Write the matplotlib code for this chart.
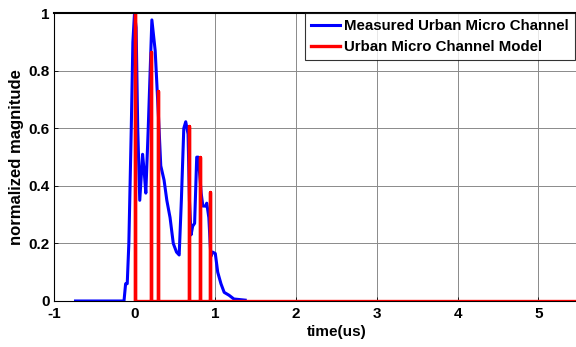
import matplotlib
matplotlib.use("Agg")
import matplotlib.pyplot as plt

plt.rcParams['font.family'] = ['Liberation Sans', 'DejaVu Sans']
plt.rcParams['font.weight'] = 'bold'
plt.rcParams['axes.unicode_minus'] = False

# Measured impulse response (time in us, normalized magnitude)
meas_t = [-0.73, -0.13, -0.11, -0.09, -0.07, -0.04, -0.02, 0.0, 0.02, 0.04, 0.065,
          0.10, 0.12, 0.14, 0.17, 0.215, 0.256, 0.297, 0.325, 0.366, 0.40, 0.44,
          0.48, 0.52, 0.553, 0.58, 0.61, 0.634, 0.663, 0.68, 0.70, 0.72, 0.744,
          0.77, 0.79, 0.825, 0.846, 0.88, 0.894, 0.92, 0.945, 0.967, 1.0, 1.03,
          1.07, 1.11, 1.17, 1.23, 1.37]
meas_y = [0.0, 0.0, 0.06, 0.06, 0.2, 0.6, 0.9, 1.0, 0.95, 0.6, 0.35,
          0.51, 0.45, 0.375, 0.6, 0.977, 0.87, 0.64, 0.47, 0.42, 0.35, 0.29,
          0.20, 0.17, 0.16, 0.35, 0.60, 0.623, 0.58, 0.35, 0.23, 0.26, 0.27,
          0.50, 0.50, 0.375, 0.33, 0.33, 0.34, 0.29, 0.155, 0.17, 0.165, 0.10,
          0.06, 0.03, 0.02, 0.007, 0.003]

# Model impulse delays and amplitudes
model_t = [0.0, 0.20, 0.29, 0.67, 0.81, 0.93]
model_a = [1.0, 0.865, 0.73, 0.61, 0.50, 0.38]
t_end = 6.0

x_ticks = [-1, 0, 1, 2, 3, 4, 5]
y_ticks = [0, 0.2, 0.4, 0.6, 0.8, 1]
y_ticklabels = ['0', '0.2', '0.4', '0.6', '0.8', '1']

# Build the impulse train as a single line
rx, ry = [], []
for t, a in zip(model_t, model_a):
    rx += [t, t, t]
    ry += [0, a, 0]
rx.append(t_end)
ry.append(0)

W, H = 576, 347
fig = plt.figure(figsize=(W / 100, H / 100), dpi=100)
ax_left, ax_right = 53.7, 619.3
ax = fig.add_axes([ax_left / W, 46 / H, (ax_right - ax_left) / W, 287.7 / H])

ax.plot(meas_t, meas_y, color='#0000ff', lw=2.2, label='Measured Urban Micro Channel')
ax.plot(rx, ry, color='#ff0000', lw=2.4, label='Urban Micro Channel Model')

ax.set_xlim(-1, 6)
ax.set_ylim(0, 1)
ax.set_xticks(x_ticks)
ax.set_yticks(y_ticks)
ax.set_yticklabels(y_ticklabels)
ax.tick_params(direction='in', length=3, labelsize=11, width=0.6)
ax.tick_params(axis='x', pad=4)
ax.tick_params(axis='y', pad=3)
ax.grid(True, color='#8a8a8a', lw=0.7)
for s in ax.spines.values():
    s.set_linewidth(0.8)
ax.spines['top'].set_linewidth(1.5)

ax.set_xlabel('time(us)', fontsize=11, fontweight='bold', labelpad=3)
ax.set_ylabel('normalized magnitude', fontsize=12, fontweight='bold', labelpad=3)

leg_x = (305 - ax_left) / (ax_right - ax_left)
leg = ax.legend(loc='upper left', bbox_to_anchor=(leg_x, 1.0),
                fontsize=10.8, frameon=True, fancybox=False, edgecolor='black',
                handlelength=1.9, borderpad=0.4, labelspacing=0.45, handletextpad=0.3,
                borderaxespad=0)
leg.get_frame().set_linewidth(0.8)
for txt in leg.get_texts():
    txt.set_fontweight('bold')

fig.savefig('out.png', dpi=100)
